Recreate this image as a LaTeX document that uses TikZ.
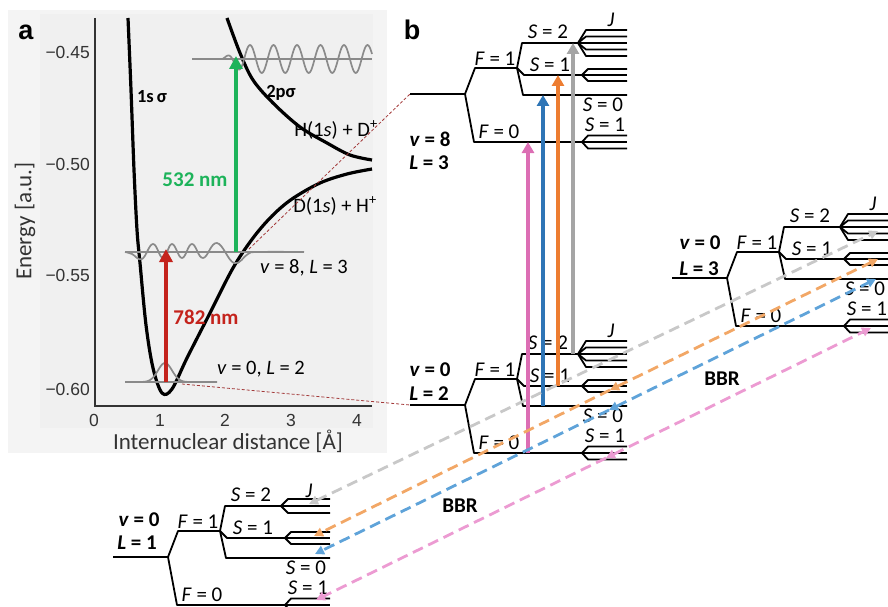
\documentclass[tikz,border=0pt]{standalone}
\usepackage{fontspec}
\setmainfont{Carlito}
\newfontfamily\arialf{Liberation Sans}
\usetikzlibrary{arrows.meta}
\definecolor{bgouter}{HTML}{F4F4F4}
\definecolor{bginner}{HTML}{F0F0F0}
\definecolor{wavegray}{HTML}{8A8A8A}
\definecolor{axisgray}{HTML}{333333}
\definecolor{lasergreen}{HTML}{1DB35A}
\definecolor{laserred}{HTML}{C4231C}
\definecolor{apink}{HTML}{DC6EB4}
\definecolor{ablue}{HTML}{2E75B6}
\definecolor{aorange}{HTML}{ED7D31}
\definecolor{agray}{HTML}{A5A5A5}
\definecolor{dpink}{HTML}{EC9BD2}
\definecolor{dblue}{HTML}{5FA3D9}
\definecolor{dorange}{HTML}{F2A766}
\definecolor{dgray}{HTML}{C8C8C8}
\definecolor{linkred}{HTML}{A33A3A}
\tikzset{
  lev/.style={line width=1.8pt, black, line join=round},
  pot/.style={line width=3.2pt, black, line join=round},
  wave/.style={line width=1.7pt, wavegray},
  axisline/.style={line width=1.8pt, axisgray},
  lbl/.style={inner sep=0pt, font=\fontsize{21}{25}\selectfont},
  blbl/.style={inner sep=0pt, font=\fontsize{21}{25}\selectfont\bfseries},
  alabel/.style={inner sep=0pt, font=\fontsize{20.5}{24}\selectfont},
  tick/.style={inner sep=0pt, text=axisgray, font=\arialf\fontsize{17.5}{20}\selectfont},
  laser/.style={line width=4pt, -{Triangle[length=13pt,width=13pt]}},
  trans/.style={line width=3.5pt, -{Triangle[length=11pt,width=12pt]}},
  bbr/.style={line width=2.8pt, dash pattern=on 11pt off 6pt},
  bbrone/.style={bbr, -{Triangle[length=9pt,width=9pt]}},
  bbrtwo/.style={bbr, {Triangle[length=9pt,width=9pt]}-{Triangle[length=9pt,width=9pt]}},
  link/.style={line width=0.8pt, linkred, dash pattern=on 3pt off 2pt}
}
\newcommand\HFS[4]{%
\begin{scope}[shift={(#1,#2)}]
\draw[lev] (0,0) -- (55,0);
\draw[lev] (55,0) -- (65,-26) -- (107,-26);
\draw[lev] (55,0) -- (64,48) -- (172,48);
\draw[lev] (107,-26) -- (112,-51) -- (168,-51);
\draw[lev] (107,-26) -- (114,-19) -- (172,-19);
\draw[lev] (107,-26) -- (113,1) -- (217,1);
\ifnum#4=5
 \foreach \dd in {-13,-6.5,0,6.5,13}{\draw[lev] (168,-51) -- ({176},{-51+(\dd)}) -- ({217},{-51+(\dd)});}
 \node[lbl] (#3J) at (201,-74) {\textit{J}};
\else
 \foreach \dd in {-7,0,7}{\draw[lev] (168,-51) -- ({175},{-51+(\dd)}) -- ({217},{-51+(\dd)});}
 \node[lbl] (#3J) at (196,-66) {\textit{J}};
\fi
\foreach \dd in {-6,0,6}{\draw[lev] (172,-19) -- ({178},{-19+(\dd)}) -- ({217},{-19+(\dd)});}
\foreach \dd in {-6.5,0,6.5}{\draw[lev] (172,48) -- ({178},{48+(\dd)}) -- ({217},{48+(\dd)});}
\node[lbl] (#3F1) at (85,-35) {\textit{F} = 1};
\node[lbl] (#3F0) at (89,38) {\textit{F} = 0};
\node[lbl] (#3S2) at (138,-62) {\textit{S} = 2};
\node[lbl] (#3S1) at (140,-29) {\textit{S} = 1};
\node[lbl] (#3S0) at (193,11) {\textit{S} = 0};
\node[lbl] (#3S1b) at (195,31) {\textit{S} = 1};
\coordinate (#3pF0) at (118,48);
\coordinate (#3pS0) at (133,1);
\coordinate (#3pS1) at (148,-19);
\coordinate (#3pS2) at (163,-51);
\end{scope}}
\begin{document}
\begin{tikzpicture}[x=1pt,y=-1pt]
\useasboundingbox (0,0) rectangle (888,607);
% ---------- panel a ----------
\fill[bgouter] (8,10) rectangle (387,453);
\fill[bginner] (40,14) rectangle (373,428);
\draw[axisline] (95,18) -- (95,406) -- (372,406);
\node[tick, anchor=east] (ym45) at (90,52) {−0.45};
\node[tick, anchor=east] (ym50) at (90,164) {−0.50};
\node[tick, anchor=east] (ym55) at (90,275) {−0.55};
\node[tick, anchor=east] (ym60) at (90,389) {−0.60};
\node[tick] (x0) at (94,420) {0};
\node[tick] (x1) at (160,420) {1};
\node[tick] (x2) at (225,420) {2};
\node[tick] (x3) at (291,420) {3};
\node[tick] (x4) at (357,420) {4};
\node[inner sep=0pt, text=axisgray, font=\fontsize{23}{27}\selectfont, rotate=90] (ylab) at (25,221) {Energy [a.u.]};
\node[inner sep=0pt, text=axisgray, font=\fontsize{23}{27}\selectfont] (xlab) at (228,441) {Internuclear distance [Å]};
\node[inner sep=0pt, font=\arialf\bfseries\fontsize{27}{30}\selectfont] (pa) at (26,32) {a};
% potentials
\draw[pot] plot[smooth, tension=0.55] coordinates {(128,18) (131,90) (134,170) (137,230) (140,263) (146,325) (153,368) (162,393) (172,389) (187,358) (210,313) (233,268) (253,238) (272,216) (292,199) (320,183) (347,174) (372,169)};
\draw[pot] plot[smooth, tension=0.55] coordinates {(227,18) (240,53) (253,80) (273,103) (300,127) (327,143) (350,155) (372,160)};
% wavefunctions
\draw[wave] (192,59) -- (372,59);
\draw[wave] plot[domain=192:372, samples=200, smooth] (\x, {59 - 14*min(1,max(0,(\x-222)/22))*cos(15.3191*(\x-250))});
\draw[wave] (125,252) -- (304,252);
\draw[wave] plot[smooth, tension=0.7] coordinates {(125,252) (132,254) (142,259) (153,244) (163,258) (172,244) (182,258) (192,244) (203,258) (217,243) (234,263) (248,254) (258,252) (304,252)};
\draw[wave] (125,382) -- (217,382);
\draw[wave] plot[domain=125:217, samples=120, smooth] (\x, {382 - 19*exp(-((\x-165)/10)^2)});
% labels panel a
\node[inner sep=0pt, font=\fontsize{18.5}{22}\selectfont\bfseries] (l1s) at (152,97) {1s\,σ};
\node[inner sep=0pt, font=\fontsize{18.5}{22}\selectfont\bfseries] (l2p) at (281,93) {2pσ};
\node[alabel] (lH) at (336,130) {H(1\textit{s}) + D\textsuperscript{+}};
\node[alabel] (lD) at (335,206) {D(1\textit{s}) + H\textsuperscript{+}};
\node[alabel] (lv8) at (304,268) {\textit{v} = 8, \textit{L} = 3};
\node[alabel] (lv0) at (261,369) {\textit{v} = 0, \textit{L} = 2};
\node[inner sep=0pt, text=lasergreen, font=\fontsize{21}{25}\selectfont\bfseries] (l532) at (195,180) {532 nm};
\node[inner sep=0pt, text=laserred, font=\fontsize{21}{25}\selectfont\bfseries] (l782) at (206,317) {782 nm};
\coordinate (g0) at (236,252);
\coordinate (g1) at (236,56);
\coordinate (r0) at (166,382);
\coordinate (r1) at (166,249);
\draw[laser, lasergreen] (g0) -- (g1);
\draw[laser, laserred] (r0) -- (r1);
% ---------- panel b ----------
\node[inner sep=0pt, font=\arialf\bfseries\fontsize{27}{30}\selectfont] (pb) at (412,30) {b};
\HFS{410}{94}{t}{5}
\HFS{410}{405}{m}{5}
\HFS{672}{278}{r}{5}
\HFS{113}{557}{b}{3}
\node[blbl] (tv) at (430,139) {\textit{v} = 8};
\node[blbl] (tL) at (429,163) {\textit{L} = 3};
\node[blbl] (mv) at (430,370) {\textit{v} = 0};
\node[blbl] (mL) at (429,394) {\textit{L} = 2};
\node[blbl] (rv) at (700,243) {\textit{v} = 0};
\node[blbl] (rL) at (699,269) {\textit{L} = 3};
\node[blbl] (bv) at (139,520) {\textit{v} = 0};
\node[blbl] (bL) at (137,543) {\textit{L} = 1};
\node[blbl] (bbr1) at (460,506) {BBR};
\node[blbl] (bbr2) at (722,379) {BBR};
% links from panel a
\coordinate (k1a) at (249,249);
\coordinate (k2a) at (182,384);
\coordinate (k1b) at (410,94);
\coordinate (k2b) at (410,405);
\draw[link] (k1a) -- (k1b);
\draw[link] (k2a) -- (k2b);
% excitation arrows
\draw[trans, apink] (mpF0) -- (tpF0);
\draw[trans, ablue] (mpS0) -- (tpS0);
\draw[trans, aorange] (mpS1) -- (tpS1);
\draw[trans, agray] (mpS2) -- (tpS2);
% BBR arrows
\coordinate (gL) at (309,504); \coordinate (gR) at (878,231);
\coordinate (oL) at (314,536); \coordinate (oM) at (610,390); \coordinate (oR) at (878,259);
\coordinate (bL) at (315,554); \coordinate (bM) at (609,410); \coordinate (bR) at (876,279);
\coordinate (pL) at (316,600); \coordinate (pM) at (606,458); \coordinate (pR) at (871,328);
\draw[bbrtwo, dgray] (gL) -- (gR);
\draw[bbrtwo, dorange] (oM) -- (oR); \draw[bbrone, dorange] (oM) -- (oL);
\draw[bbrtwo, dblue] (bM) -- (bR); \draw[bbrone, dblue] (bM) -- (bL);
\draw[bbrtwo, dpink] (pM) -- (pR); \draw[bbrone, dpink] (pM) -- (pL);
\end{tikzpicture}
\end{document}
